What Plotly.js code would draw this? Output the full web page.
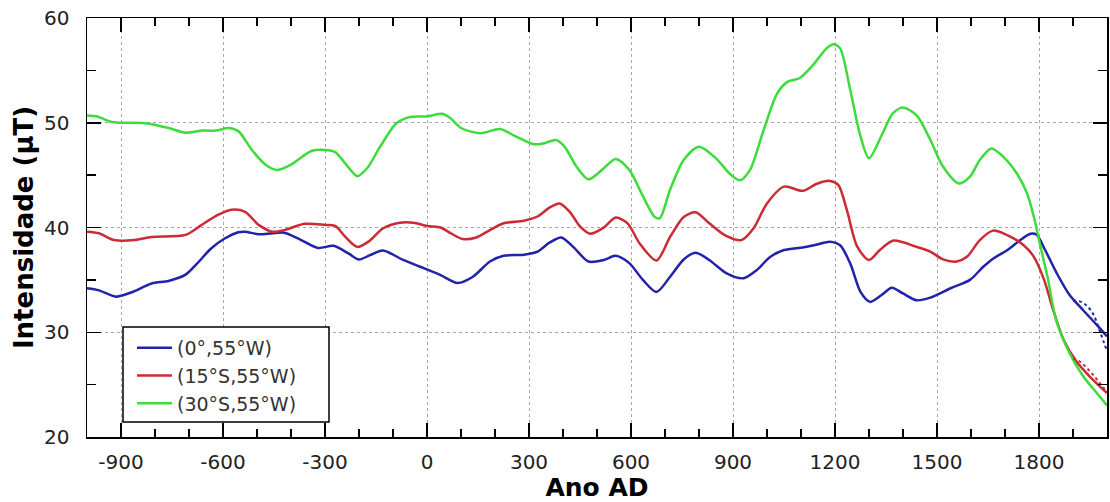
<!DOCTYPE html>
<html>
<head>
<meta charset="utf-8">
<script src="https://cdn.plot.ly/plotly-3.0.1.min.js"></script>
<style>
  html, body { margin: 0; padding: 0; background: #fff; }
  #chart { width: 1110px; height: 502px; }
</style>
</head>
<body>
<div id="chart"></div>
<script>
// Field intensity (µT) at three sites along 55°W, -1000 to 2000 AD

const yearsEq = [-1000, -965, -915, -870, -810, -760, -710, -675, -635, -595, -555, -535, -495, -455, -420, -370, -320, -275, -230, -200, -165, -130, -70, -20, 40, 90, 135, 185, 225, 285, 325, 360, 395, 430, 475, 520, 555, 595, 635, 675, 715, 755, 790, 830, 880, 930, 970, 1010, 1050, 1105, 1145, 1185, 1215, 1245, 1275, 1303, 1337, 1367, 1400, 1440, 1480, 1540, 1597, 1636, 1666, 1705, 1745, 1775, 1793, 1818, 1852, 1890, 1930, 1970, 2000];
const valuesEq = [34.2, 34.0, 33.4, 33.8, 34.65, 34.9, 35.5, 36.6, 38.0, 38.95, 39.55, 39.6, 39.35, 39.45, 39.5, 38.8, 38.05, 38.25, 37.5, 36.95, 37.4, 37.8, 36.9, 36.25, 35.45, 34.7, 35.3, 36.75, 37.3, 37.4, 37.7, 38.55, 39.05, 38.15, 36.75, 36.9, 37.3, 36.6, 35.0, 33.85, 35.3, 36.95, 37.6, 36.9, 35.65, 35.15, 35.95, 37.2, 37.85, 38.1, 38.35, 38.65, 38.3, 36.55, 33.85, 32.9, 33.55, 34.25, 33.7, 33.05, 33.3, 34.2, 35.0, 36.25, 37.05, 37.8, 38.8, 39.4, 39.3, 37.85, 35.65, 33.55, 32.1, 30.7, 29.6];

const years15S = [-1000, -965, -920, -860, -810, -710, -665, -615, -575, -535, -495, -455, -420, -360, -300, -270, -240, -205, -170, -130, -80, -40, 0, 40, 70, 105, 145, 185, 225, 285, 325, 360, 390, 420, 450, 480, 520, 555, 590, 625, 675, 715, 755, 790, 830, 880, 925, 960, 1000, 1050, 1105, 1145, 1185, 1210, 1235, 1265, 1300, 1332, 1372, 1440, 1480, 1518, 1558, 1588, 1626, 1665, 1705, 1755, 1785, 1815, 1842, 1872, 1910, 1950, 2000];
const values15S = [39.6, 39.45, 38.8, 38.8, 39.1, 39.3, 40.2, 41.2, 41.7, 41.5, 40.25, 39.6, 39.75, 40.35, 40.25, 40.15, 39.1, 38.15, 38.7, 39.9, 40.45, 40.45, 40.15, 40.0, 39.45, 38.9, 39.05, 39.75, 40.4, 40.65, 41.05, 41.9, 42.3, 41.5, 40.1, 39.4, 40.0, 40.95, 40.4, 38.5, 36.85, 39.1, 41.0, 41.45, 40.4, 39.2, 38.8, 39.9, 42.3, 43.9, 43.5, 44.15, 44.45, 44.05, 41.65, 38.2, 36.9, 37.85, 38.75, 38.15, 37.7, 36.95, 36.75, 37.2, 38.8, 39.7, 39.3, 38.3, 37.2, 35.0, 32.1, 29.3, 27.2, 25.75, 24.2];

const years30S = [-1000, -970, -930, -900, -830, -760, -710, -660, -620, -585, -555, -515, -475, -440, -400, -340, -300, -270, -240, -205, -175, -140, -90, -50, 0, 45, 70, 100, 155, 215, 255, 315, 345, 380, 405, 440, 475, 520, 555, 595, 635, 670, 685, 715, 755, 800, 850, 890, 920, 950, 990, 1030, 1060, 1095, 1135, 1175, 1195, 1215, 1245, 1275, 1300, 1340, 1370, 1400, 1440, 1480, 1518, 1565, 1597, 1626, 1660, 1695, 1735, 1765, 1785, 1805, 1825, 1850, 1890, 1930, 1970, 2000];
const values30S = [50.7, 50.6, 50.1, 50.0, 49.95, 49.5, 49.05, 49.25, 49.25, 49.5, 49.2, 47.4, 46.0, 45.5, 46.0, 47.3, 47.4, 47.2, 46.1, 44.9, 45.7, 47.6, 49.95, 50.55, 50.6, 50.85, 50.4, 49.5, 49.0, 49.4, 48.8, 47.95, 48.05, 48.35, 47.7, 45.8, 44.6, 45.65, 46.55, 45.5, 43.0, 41.0, 40.9, 43.6, 46.45, 47.7, 46.6, 45.15, 44.5, 45.5, 49.3, 52.8, 53.9, 54.25, 55.5, 57.1, 57.5, 57.1, 53.1, 48.7, 46.6, 49.0, 50.9, 51.45, 50.7, 48.4, 45.8, 44.2, 44.85, 46.45, 47.55, 46.75, 45.15, 43.25, 41.0, 38.1, 35.3, 31.2, 28.0, 25.8, 24.2, 23.0];

// Direct-observation reference curves for the 20th century
const yearsObs = [1900, 1920, 1940, 1960, 1980, 2000];
const obsEq = [33.0, 32.95, 32.55, 31.7, 30.0, 28.2];
const obs15S = [27.5, 27.2, 26.6, 25.9, 25.1, 24.3];

const seriesNames = ['(0°,55°W)', '(15°S,55°W)', '(30°S,55°W)'];
const xTickVals = [-900, -600, -300, 0, 300, 600, 900, 1200, 1500, 1800];
const xTickText = ['-900', '-600', '-300', '0', '300', '600', '900', '1200', '1500', '1800'];
const yTickVals = [20, 30, 40, 50, 60];

const BLUE = '#2222aa';
const RED = '#cc2b35';
const GREEN = '#3cdc3c';

function curve(x, y, name, color) {
  return {
    x: x, y: y, name: name, type: 'scatter', mode: 'lines',
    line: { color: color, width: 2.5, shape: 'spline', smoothing: 0.8 },
    hoverinfo: 'skip'
  };
}
function dotted(x, y, color) {
  return {
    x: x, y: y, type: 'scatter', mode: 'lines', showlegend: false,
    line: { color: color, width: 2, dash: 'dot', shape: 'spline' },
    hoverinfo: 'skip'
  };
}

const traces = [
  curve(yearsEq, valuesEq, seriesNames[0], BLUE),
  curve(years15S, values15S, seriesNames[1], RED),
  curve(years30S, values30S, seriesNames[2], GREEN),
  dotted(yearsObs, obsEq, BLUE),
  dotted(yearsObs, obs15S, RED)
];

const axisCommon = {
  showline: true, linecolor: '#000', linewidth: 1.5, mirror: 'ticks',
  ticks: 'inside', ticklen: 14, tickwidth: 1.5, tickcolor: '#000',
  showgrid: true, gridcolor: '#a8a8a8', gridwidth: 1, griddash: 'dot',
  zeroline: false,
  tickfont: { family: 'DejaVu Sans', size: 20, color: '#222' }
};

const layout = {
  width: 1110, height: 502,
  margin: { l: 87, r: 3, t: 18, b: 65 },
  paper_bgcolor: '#fff', plot_bgcolor: '#fff',
  showlegend: true,
  xaxis: Object.assign({}, axisCommon, {
    range: [-1000, 2000], tickmode: 'array', tickvals: xTickVals, ticktext: xTickText,
    ticklabelstandoff: 6,
    minor: { dtick: 100, tick0: -1000, ticks: 'inside', ticklen: 8, tickwidth: 1.5, tickcolor: '#000', showgrid: false },
    title: { text: '<b>Ano AD</b>', font: { family: 'DejaVu Sans', size: 25, color: '#000' }, standoff: 8 }
  }),
  yaxis: Object.assign({}, axisCommon, {
    range: [20, 60], tickmode: 'array', tickvals: yTickVals,
    ticklabelstandoff: 12,
    minor: { dtick: 5, tick0: 20, ticks: 'inside', ticklen: 9, tickwidth: 1.5, tickcolor: '#000', showgrid: false },
    title: { text: '<b>Intensidade (μT)</b>', font: { family: 'DejaVu Sans', size: 26, color: '#000' }, standoff: 3 }
  }),
  shapes: [{
    type: 'rect', xref: 'paper', yref: 'paper', layer: 'above',
    x0: (123 - 87) / 1020, x1: (329 - 87) / 1020,
    y0: (437 - 422) / 419, y1: (437 - 327) / 419,
    fillcolor: '#fff', line: { color: '#000', width: 1.5 }
  }],
  legend: {
    x: (132 - 87) / 1020, xanchor: 'left',
    y: (437 - 329) / 419, yanchor: 'top',
    bgcolor: 'rgba(0,0,0,0)', borderwidth: 0,
    font: { family: 'DejaVu Sans', size: 19, color: '#333' },
    itemwidth: 35,
    tracegroupgap: 0
  }
};

Plotly.newPlot('chart', traces, layout, { displayModeBar: false, staticPlot: true });
</script>
</body>
</html>
